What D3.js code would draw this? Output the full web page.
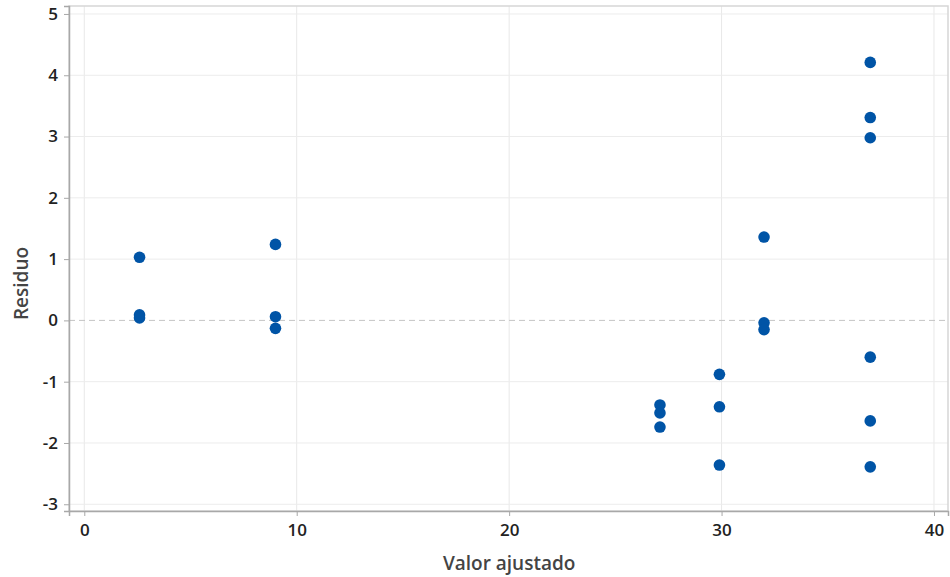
<!DOCTYPE html>
<html>
<head>
<meta charset="utf-8">
<script src="https://cdn.jsdelivr.net/npm/d3@7"></script>
<style>
  body { margin: 0; background: #fff; }
  svg { display: block; font-family: "Open Sans", "Noto Sans", sans-serif; }
</style>
</head>
<body>
<svg id="chart" width="950" height="577"></svg>
<script>
const fitted = [2.6, 2.6, 2.6, 9, 9, 9, 27.1, 27.1, 27.1, 29.9, 29.9, 29.9, 32, 32, 32, 37, 37, 37, 37, 37, 37],
    residuals = [1.03, 0.09, 0.04, 1.24, 0.06, -0.13, -1.38, -1.51, -1.74, -0.88, -1.41, -2.36, 1.36, -0.04, -0.15, 4.21, 3.31, 2.98, -0.60, -1.64, -2.39],
    xTicks = [0, 10, 20, 30, 40],
    yTicks = [-3, -2, -1, 0, 1, 2, 3, 4, 5];

const svg = d3.select("#chart"),
    plotLeft = 69, plotRight = 948, plotTop = 6, plotBottom = 511;

const x = d3.scaleLinear().domain([-0.72, 40.66]).range([plotLeft, plotRight]);
const y = d3.scaleLinear().domain([-3.11, 5.13]).range([plotBottom, plotTop]);

// grid
svg.append("g").selectAll("line")
    .data(xTicks)
    .enter().append("line")
    .attr("x1", d => x(d)).attr("x2", d => x(d))
    .attr("y1", plotTop).attr("y2", plotBottom)
    .attr("stroke", "#e8e8e8");

svg.append("g").selectAll("line")
    .data(yTicks.filter(d => d !== 0))
    .enter().append("line")
    .attr("x1", plotLeft).attr("x2", plotRight)
    .attr("y1", d => y(d)).attr("y2", d => y(d))
    .attr("stroke", "#ececec");

// zero reference
svg.append("line")
    .attr("x1", plotLeft).attr("x2", plotRight)
    .attr("y1", y(0)).attr("y2", y(0))
    .attr("stroke", "#c4c4c4")
    .attr("stroke-dasharray", "6,4");

// frame
svg.append("rect")
    .attr("x", plotLeft).attr("y", plotTop)
    .attr("width", plotRight - plotLeft).attr("height", plotBottom - plotTop)
    .attr("fill", "none")
    .attr("stroke", "#d6d6d6")
    .attr("stroke-width", 1.5);

// axes
const plain = d => String(d);
const xAxis = svg.append("g")
    .attr("transform", `translate(0,${plotBottom})`)
    .call(d3.axisBottom(x).tickValues(xTicks).tickFormat(plain).tickSize(5).tickPadding(8));
const yAxis = svg.append("g")
    .attr("transform", `translate(${plotLeft},0)`)
    .call(d3.axisLeft(y).tickValues(yTicks).tickFormat(plain).tickSize(5).tickPadding(6));

[xAxis, yAxis].forEach(function (g) {
    g.attr("font-family", null);
    g.select(".domain").attr("stroke", "#a8a8a8").attr("stroke-width", 1.5);
    g.selectAll(".tick line").attr("stroke", "#a8a8a8");
    g.selectAll(".tick text")
        .attr("fill", "#222")
        .style("font-size", "17px")
        .style("font-weight", "600");
});

// points
svg.append("g").selectAll("circle")
    .data(fitted.map((f, i) => [f, residuals[i]]))
    .enter().append("circle")
    .attr("cx", d => x(d[0]))
    .attr("cy", d => y(d[1]))
    .attr("r", 5.8)
    .attr("fill", "#0054a6");

// labels
svg.append("text")
    .attr("x", (x(0) + x(40)) / 2)
    .attr("y", 570)
    .attr("text-anchor", "middle")
    .attr("fill", "#444")
    .style("font-size", "19px")
    .style("font-weight", "600")
    .text("Valor ajustado");

svg.append("text")
    .attr("transform", `translate(28,${(plotTop + plotBottom) / 2 + 25}) rotate(-90)`)
    .attr("text-anchor", "middle")
    .attr("fill", "#444")
    .style("font-size", "19px")
    .style("font-weight", "600")
    .text("Residuo");
</script>
</body>
</html>
